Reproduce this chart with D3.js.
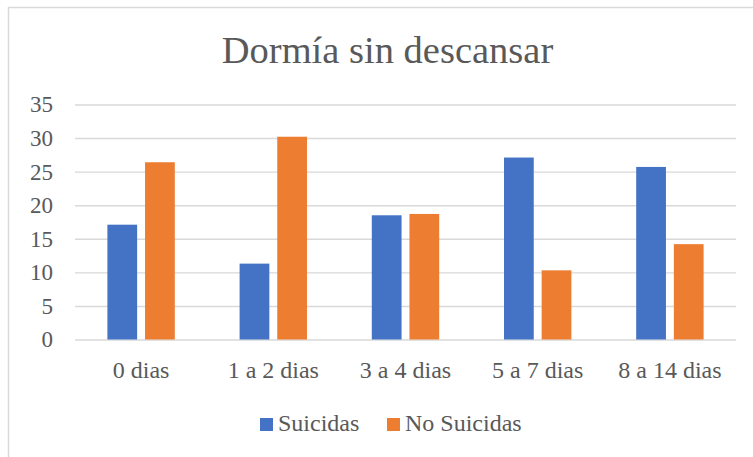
<!DOCTYPE html>
<html>
<head>
<meta charset="utf-8">
<script src="https://cdn.jsdelivr.net/npm/d3@7"></script>
<style>
    body { margin: 0; background: #fff; }
    text { font-family: "Liberation Serif", serif; fill: #595959; }
</style>
</head>
<body>
<div id="chart"></div>
<script>
// data
var categories = ["0 dias", "1 a 2 dias", "3 a 4 dias", "5 a 7 dias", "8 a 14 dias"];
var seriesNames = ["Suicidas", "No Suicidas"];
var suicidas = [17.1, 11.3, 18.5, 27.1, 25.7];
var noSuicidas = [26.4, 30.2, 18.7, 10.3, 14.2];
var yTicks = [0, 5, 10, 15, 20, 25, 30, 35];
var colors = ["#4472c4", "#ed7d31"];

var svgW = 753;
var svgH = 457;

var margin = {
    top: 104.5,
    left: 75,
    right: 17,
    bottom: 117.5
};
var chartW = svgW - margin.left - margin.right;
var chartH = svgH - margin.top - margin.bottom;

var svg = d3.select("#chart")
    .append("svg")
    .attr("width", svgW)
    .attr("height", svgH);

// chart frame (right and bottom run off the picture)
svg.append("rect")
    .attr("x", 8.5)
    .attr("y", 7.5)
    .attr("width", 800)
    .attr("height", 500)
    .attr("fill", "none")
    .attr("stroke", "#d9d9d9")
    .attr("stroke-width", 1.5);

svg.append("text")
    .attr("x", 387.5)
    .attr("y", 63)
    .attr("text-anchor", "middle")
    .attr("font-size", 38.5)
    .text("Dormía sin descansar");

var chartG = svg.append("g")
    .attr("transform", `translate(${margin.left}, ${margin.top})`);

var yScale = d3.scaleLinear()
    .domain([0, 35])
    .range([chartH, 0]);

var xScale = d3.scaleBand()
    .domain(categories)
    .range([0, chartW]);

var innerScale = d3.scaleBand()
    .domain(seriesNames)
    .range([-33.7, 33.7])
    .paddingInner(0.21);

var yAxis = chartG.append("g")
    .call(d3.axisLeft(yScale).tickValues(yTicks).tickSize(-chartW).tickPadding(22));
yAxis.select(".domain").remove();
yAxis.selectAll("line").attr("stroke", "#d9d9d9").attr("stroke-width", 1.4);
yAxis.selectAll("text").attr("font-size", 23).attr("fill", "#595959");

var xAxis = chartG.append("g")
    .attr("transform", `translate(0, ${chartH})`)
    .call(d3.axisBottom(xScale).tickSize(0).tickPadding(21));
xAxis.select(".domain").remove();
xAxis.selectAll("text").attr("font-size", 24).attr("fill", "#595959");

var rows = categories.map(function(c, i) {
    return { cat: c, values: [suicidas[i], noSuicidas[i]] };
});

var groups = chartG.append("g")
    .selectAll("g")
    .data(rows)
    .enter()
    .append("g")
    .attr("transform", function(d) { return `translate(${xScale(d.cat) + xScale.bandwidth() / 2}, 0)` });

groups.selectAll("rect")
    .data(function(d) { return d.values.map(function(v, j) { return { name: seriesNames[j], value: v, j: j } }) })
    .enter()
    .append("rect")
    .attr("x", function(d) { return innerScale(d.name) })
    .attr("y", function(d) { return yScale(d.value) })
    .attr("width", innerScale.bandwidth())
    .attr("height", function(d) { return chartH - yScale(d.value) })
    .attr("fill", function(d) { return colors[d.j] });

// legend
var legendX = [260, 387];
var legend = svg.append("g")
    .selectAll("g")
    .data(seriesNames)
    .enter()
    .append("g")
    .attr("transform", function(d, i) { return `translate(${legendX[i]}, 418)` });

legend.append("rect")
    .attr("width", 13)
    .attr("height", 13)
    .attr("fill", function(d, i) { return colors[i] });

legend.append("text")
    .attr("x", 18)
    .attr("y", 13)
    .attr("font-size", 24)
    .text(function(d) { return d });
</script>
</body>
</html>
